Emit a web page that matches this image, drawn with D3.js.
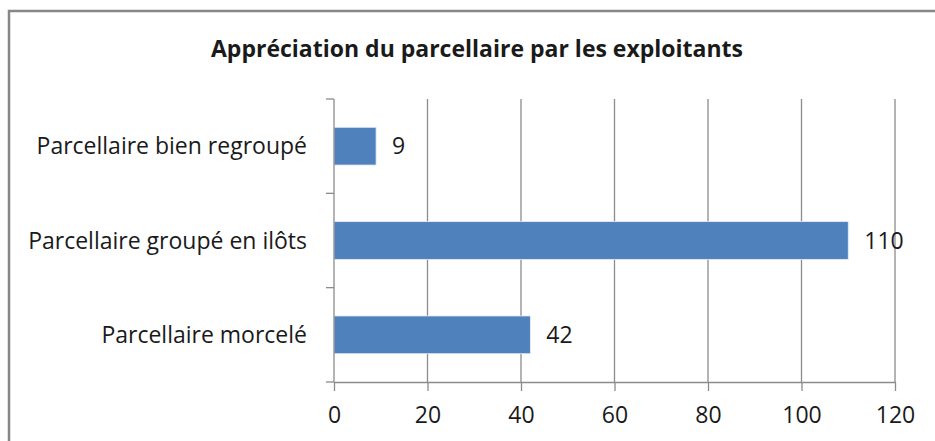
<!DOCTYPE html>
<html lang="fr">
<head>
<meta charset="UTF-8">
<title>Appréciation du parcellaire par les exploitants</title>
<script src="https://d3js.org/d3.v7.min.js"></script>
<style>
  body { margin: 0; background: #fff; }
  text { font-family: "Open Sans", Lato, sans-serif; fill: #1a1a1a; }
</style>
</head>
<body>
<div id="chart"></div>
<script>
// data
const categories = ["Parcellaire bien regroupé", "Parcellaire groupé en ilôts", "Parcellaire morcelé"];
const values = [9, 110, 42];
const xTicks = [0, 20, 40, 60, 80, 100, 120];
const title = "Appréciation du parcellaire par les exploitants";

const W = 935, H = 441;
const margin = { top: 99, right: 40, bottom: 59, left: 334 };
const width = 895 - margin.left;
const height = H - margin.top - margin.bottom;

const svg = d3.select("#chart").append("svg")
    .attr("width", W)
    .attr("height", H);

// chart frame (cropped on the right and bottom)
svg.append("rect")
    .attr("x", 9).attr("y", 11)
    .attr("width", W + 10).attr("height", H + 10)
    .attr("fill", "none")
    .attr("stroke", "#878787")
    .attr("stroke-width", 2.5);

svg.append("text")
    .attr("x", 477)
    .attr("y", 57)
    .attr("text-anchor", "middle")
    .style("font-weight", "bold")
    .style("font-size", "23px")
    .text(title);

const g = svg.append("g")
    .attr("transform", `translate(${margin.left},${margin.top})`);

const x = d3.scaleLinear()
    .domain([0, 120])
    .range([0, width]);

const y = d3.scaleBand()
    .domain(categories)
    .range([0, height])
    .paddingInner(0.6)
    .paddingOuter(0.3);

// vertical gridlines
g.append("g")
    .selectAll("line")
    .data(xTicks.slice(1))
    .join("line")
    .attr("x1", d => x(d)).attr("x2", d => x(d))
    .attr("y1", 0).attr("y2", height)
    .attr("stroke", "#8c8c8c")
    .attr("stroke-width", 1.3);

// bars
g.selectAll("rect.bar")
    .data(values)
    .join("rect")
    .attr("class", "bar")
    .attr("x", x(0))
    .attr("y", (d, i) => y(categories[i]))
    .attr("width", d => x(d) - x(0))
    .attr("height", y.bandwidth())
    .attr("fill", "#4f81bd")
    .attr("stroke", "#e4ebf4")
    .attr("stroke-width", 0.8);

// value labels
g.selectAll("text.val")
    .data(values)
    .join("text")
    .attr("class", "val")
    .attr("x", d => x(d) + 16)
    .attr("y", (d, i) => y(categories[i]) + y.bandwidth() / 2)
    .attr("dy", "0.35em")
    .style("font-size", "23px")
    .text(d => d);

// x axis
const xAxis = g.append("g")
    .attr("transform", `translate(0,${height})`)
    .call(d3.axisBottom(x).tickValues(xTicks).tickSize(9).tickSizeOuter(0).tickPadding(16));
xAxis.select(".domain").attr("stroke", "#8c8c8c").attr("stroke-width", 1.3);
xAxis.selectAll(".tick line").attr("stroke", "#8c8c8c").attr("stroke-width", 1.3);
xAxis.selectAll(".tick text").style("font-size", "23px").attr("fill", "#1a1a1a");

// y axis with ticks between categories
const yAxis = g.append("g");
yAxis.append("line")
    .attr("x1", 0).attr("x2", 0)
    .attr("y1", 0).attr("y2", height)
    .attr("stroke", "#8c8c8c").attr("stroke-width", 1.3);
const step = height / categories.length;
yAxis.selectAll("line.sep")
    .data(d3.range(categories.length + 1))
    .join("line")
    .attr("class", "sep")
    .attr("x1", -8).attr("x2", 0)
    .attr("y1", d => d * step).attr("y2", d => d * step)
    .attr("stroke", "#8c8c8c").attr("stroke-width", 1.3);
yAxis.selectAll("text")
    .data(categories)
    .join("text")
    .attr("x", -27)
    .attr("y", d => y(d) + y.bandwidth() / 2)
    .attr("dy", "0.35em")
    .attr("text-anchor", "end")
    .style("font-size", "23px")
    .text(d => d);
</script>
</body>
</html>
